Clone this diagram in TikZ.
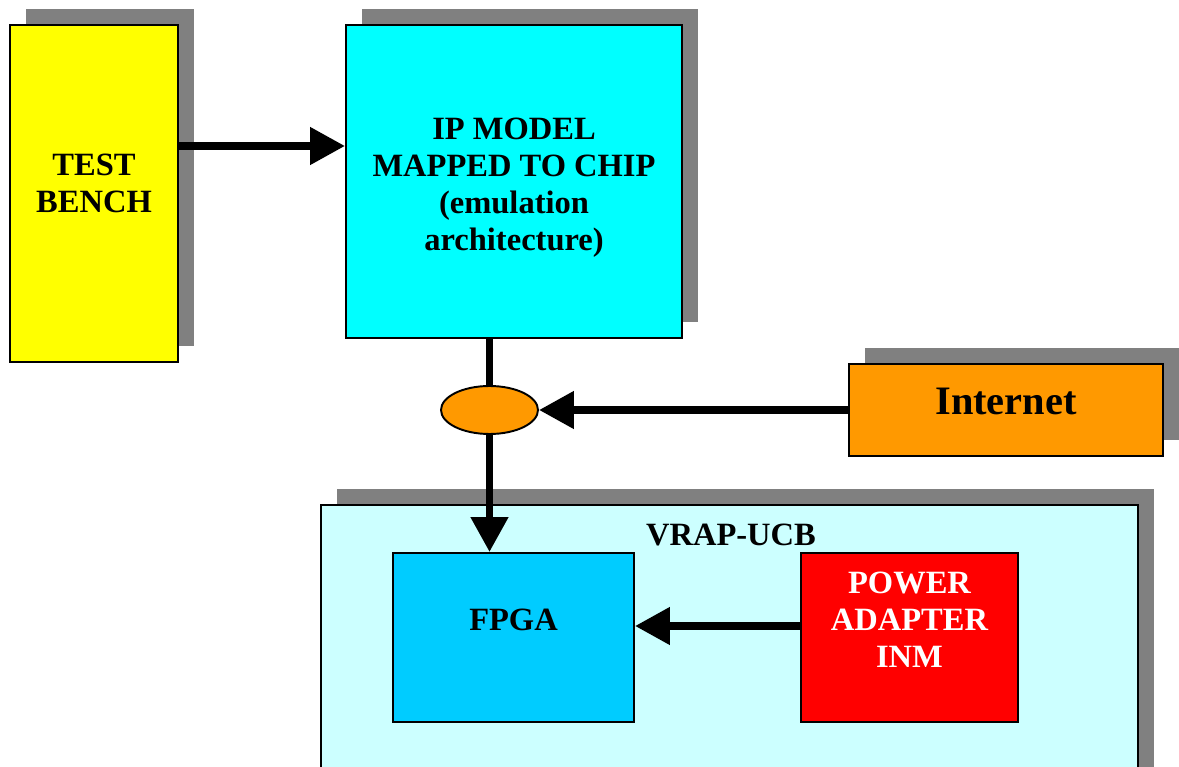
\documentclass[tikz,border=0pt]{standalone}
\usepackage{fontspec}
\setmainfont{Liberation Serif}
\usetikzlibrary{arrows.meta,shadows,calc,shapes.geometric}
\definecolor{shadegray}{HTML}{808080}
\definecolor{benchyellow}{HTML}{FFFF00}
\definecolor{ipcyan}{HTML}{00FFFF}
\definecolor{netorange}{HTML}{FF9900}
\definecolor{boardcyan}{HTML}{CCFFFF}
\definecolor{fpgablue}{HTML}{00CCFF}
\definecolor{powerred}{HTML}{FF0000}
\tikzset{
  blk/.style={draw, line width=1.1pt, inner sep=0pt,
    drop shadow={shadow xshift=.32cm, shadow yshift=.32cm, fill=shadegray, opacity=1}},
  plainblk/.style={draw, line width=1.1pt, inner sep=0pt},
  txt/.style={font=\bfseries\fontsize{18.5}{21}\selectfont, align=center, inner sep=0pt},
  link/.style={line width=.155cm, -{Triangle[length=.7cm,width=.72cm]}},
  wire/.style={line width=.155cm}
}
\begin{document}
\begin{tikzpicture}
\clip (0,0) rectangle (23.58,-15.34);

% boxes
\node[blk, fill=benchyellow, minimum width=3.36cm, minimum height=6.74cm] (bench) at (1.88,-3.87) {};
\node[blk, fill=ipcyan, minimum width=6.72cm, minimum height=6.26cm] (ip) at (10.28,-3.63) {};
\node[blk, fill=netorange, minimum width=6.28cm, minimum height=1.84cm] (internet) at (20.12,-8.2) {};
\node[blk, fill=boardcyan, minimum width=16.34cm, minimum height=5.9cm] (vrap) at (14.59,-13.05) {};
\node[plainblk, fill=fpgablue, minimum width=4.82cm, minimum height=3.38cm] (fpga) at (10.27,-12.75) {};
\node[plainblk, fill=powerred, minimum width=4.34cm, minimum height=3.38cm] (power) at (18.19,-12.75) {};
\node[draw, line width=1.1pt, fill=netorange, ellipse, minimum width=1.94cm, minimum height=.96cm, inner sep=0pt] (tap) at (9.79,-8.2) {};

% texts
\node[txt] (benchtxt) at ($(bench)+(0,.21)$) {TEST\\BENCH};
\node[txt] (iptxt) at ($(ip)+(0,-.12)$) {IP MODEL\\MAPPED TO CHIP\\(emulation\\architecture)};
\node[txt, font=\bfseries\fontsize{23}{25}\selectfont] (nettxt) at ($(internet)+(0,.18)$) {Internet};
\node[txt] (vraptxt) at (14.62,-10.7) {VRAP-UCB};
\node[txt] (fpgatxt) at ($(fpga)+(0,.35)$) {FPGA};
\node[txt, text=white] (powertxt) at ($(power)+(0,.35)$) {POWER\\ADAPTER\\INM};

% connections
\draw[link] ([yshift=.95cm]bench.east) -- ([yshift=.95cm]bench.east -| ip.west);
\draw[wire] (ip.south -| tap.north) -- (tap.north);
\draw[link] (internet.west) -- (tap.east);
\draw[link] (tap.south) -- (tap.south |- fpga.north);
\draw[link] ([yshift=.23cm]power.west) -- ([yshift=.23cm]power.west -| fpga.east);
\end{tikzpicture}
\end{document}
